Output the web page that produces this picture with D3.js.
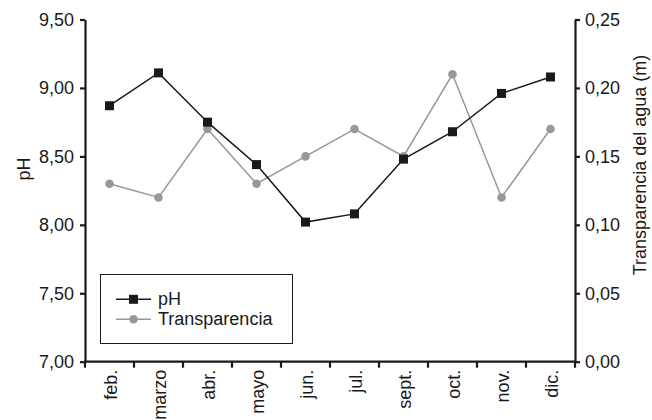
<!DOCTYPE html>
<html><head><meta charset="utf-8">
<script src="https://cdn.jsdelivr.net/npm/d3@7"></script>
<style>body{margin:0;background:#fff}svg{display:block}text{font-family:"Liberation Sans",Arial,sans-serif}</style>
</head><body>
<svg id="c" width="652" height="420"></svg>
<script>
const months = ["feb.","marzo","abr.","mayo","jun.","jul.","sept.","oct.","nov.","dic."];
const phValues = [8.87, 9.11, 8.75, 8.44, 8.02, 8.08, 8.48, 8.68, 8.96, 9.08];
const transValues = [0.13, 0.12, 0.17, 0.13, 0.15, 0.17, 0.15, 0.21, 0.12, 0.17];
const phTicks = [7.0, 7.5, 8.0, 8.5, 9.0, 9.5];
const transTicks = [0, 0.05, 0.10, 0.15, 0.20, 0.25];

const FS = "18px";
const svg = d3.select("#c");
const L = 85, R = 575, T = 19.5, B = 361.7;
const x = d3.scaleBand().domain(months).range([L, R]);
const yL = d3.scaleLinear().domain([7, 9.5]).range([B, T]);
const yR = d3.scaleLinear().domain([0, 0.25]).range([B, T]);
const fmt = d3.format(".2f");
const comma = v => fmt(v).replace(".", ",");
const ink = "#1a1a1a";

function styleAxis(g){
  g.select(".domain").attr("stroke",ink).attr("stroke-width",2.2);
  g.selectAll(".tick line").attr("stroke",ink).attr("stroke-width",2.2);
  g.selectAll(".tick text").attr("fill",ink).style("font-size",FS).style("font-family","'Liberation Sans',Arial,sans-serif");
}

// x axis with ticks at band boundaries
const gx = svg.append("g").attr("transform",`translate(0,${B})`);
gx.append("line").attr("x1",L-1).attr("x2",R+1).attr("stroke",ink).attr("stroke-width",2.2);
const bounds = months.map(m => x(m)).concat([R]);
gx.selectAll("line.t").data(bounds).join("line").attr("class","t")
  .attr("x1",d=>d).attr("x2",d=>d).attr("y1",0).attr("y2",6)
  .attr("stroke",ink).attr("stroke-width",2.2);
gx.selectAll("text").data(months).join("text")
  .attr("transform",d=>`translate(${x(d)+x.bandwidth()/2+7},8) rotate(-90)`)
  .attr("text-anchor","end").attr("fill",ink).style("font-size",FS).text(d=>d);

const gl = svg.append("g").attr("transform",`translate(${L},0)`)
  .call(d3.axisLeft(yL).tickValues(phTicks).tickFormat(comma).tickSize(5).tickSizeOuter(0).tickPadding(6));
styleAxis(gl);
const gr = svg.append("g").attr("transform",`translate(${R},0)`)
  .call(d3.axisRight(yR).tickValues(transTicks).tickFormat(comma).tickSize(5).tickSizeOuter(0).tickPadding(5));
styleAxis(gr);

svg.append("text").attr("transform",`translate(30,169) rotate(-90)`)
  .attr("text-anchor","middle").attr("fill",ink).style("font-size",FS).text("pH");
svg.append("text").attr("transform",`translate(646,165) rotate(-90)`)
  .attr("text-anchor","middle").attr("fill",ink).style("font-size",FS).text("Transparencia del agua (m)");

const cx = d => x(d) + x.bandwidth()/2;
const gray = "#999999", dark = "#1a1a1a";

// Transparencia
const lineT = d3.line().x((d,i)=>cx(months[i])).y(d=>yR(d));
svg.append("path").attr("d",lineT(transValues)).attr("fill","none").attr("stroke",gray).attr("stroke-width",1.5);
svg.selectAll("circle.t").data(transValues).join("circle").attr("class","t")
  .attr("cx",(d,i)=>cx(months[i])).attr("cy",d=>yR(d)).attr("r",4.3).attr("fill",gray);

// pH
const lineP = d3.line().x((d,i)=>cx(months[i])).y(d=>yL(d));
svg.append("path").attr("d",lineP(phValues)).attr("fill","none").attr("stroke",dark).attr("stroke-width",1.5);
svg.selectAll("rect.p").data(phValues).join("rect").attr("class","p")
  .attr("x",(d,i)=>cx(months[i])-4.5).attr("y",d=>yL(d)-4.5).attr("width",9).attr("height",9).attr("fill",dark);

// Legend
const lg = svg.append("g");
lg.append("rect").attr("x",100.5).attr("y",274.5).attr("width",192).attr("height",69)
  .attr("fill","#fff").attr("stroke",ink).attr("stroke-width",1);
const items = [{name:"pH",c:dark,shape:"sq"},{name:"Transparencia",c:gray,shape:"ci"}];
items.forEach((it,i)=>{
  const yy = 299.3 + i*20;
  lg.append("line").attr("x1",116).attr("x2",151).attr("y1",yy).attr("y2",yy).attr("stroke",it.c).attr("stroke-width",1.5);
  if(it.shape==="sq") lg.append("rect").attr("x",129).attr("y",yy-4.5).attr("width",9).attr("height",9).attr("fill",it.c);
  else lg.append("circle").attr("cx",133.5).attr("cy",yy).attr("r",4.3).attr("fill",it.c);
  lg.append("text").attr("x",158).attr("y",yy+5.5).attr("fill",ink).style("font-size",FS).text(it.name);
});
</script>
</body></html>
